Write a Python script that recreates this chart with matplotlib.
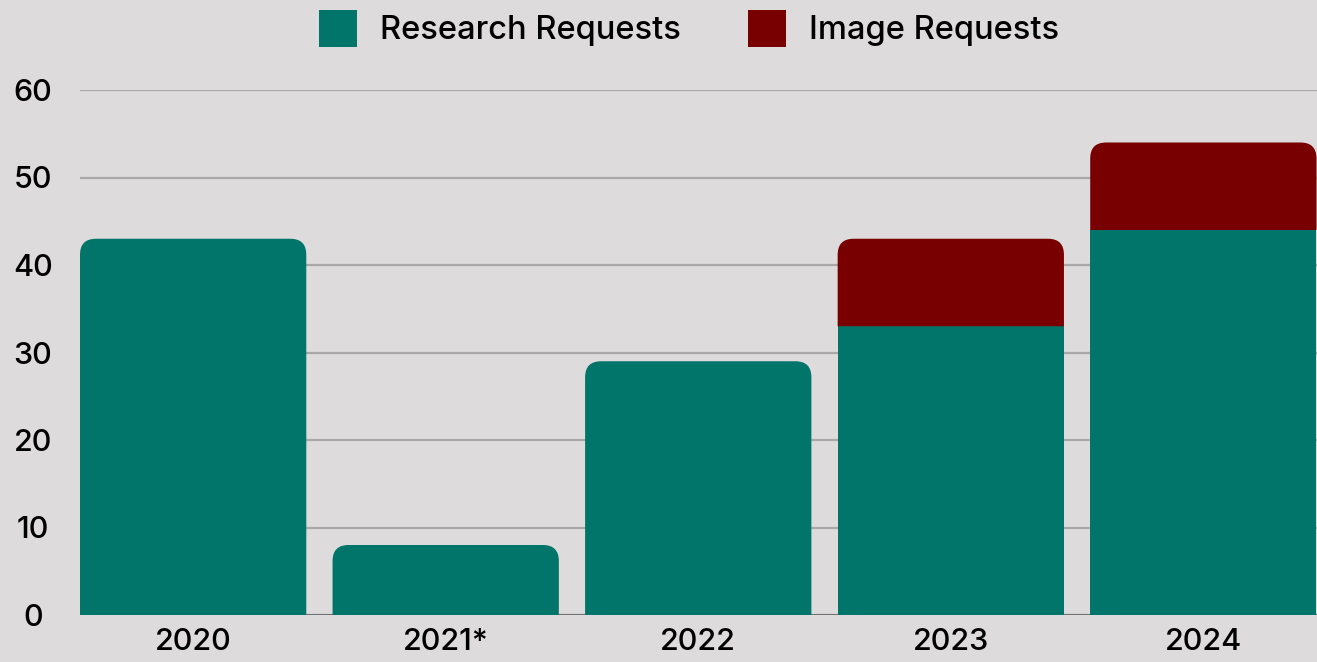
import matplotlib.pyplot as plt
from matplotlib import font_manager
from matplotlib.patches import Patch, PathPatch
from matplotlib.path import Path

# data
years = ['2020', '2021*', '2022', '2023', '2024']
research = [43, 8, 29, 33, 44]
image = [0, 0, 0, 10, 10]

bg = '#dddbdc'
teal = '#02756b'
red = '#790000'

# pick the static Inter Medium file (variable font renders too thin)
fpath = None
for f in font_manager.fontManager.ttflist:
    if f.fname.endswith('Inter-Medium.otf'):
        fpath = f.fname
        break
if fpath:
    font = font_manager.FontProperties(fname=fpath, size=22)
    lfont = font_manager.FontProperties(fname=fpath, size=23.5)
else:
    font = font_manager.FontProperties(family='DejaVu Sans', size=21)
    lfont = font_manager.FontProperties(family='DejaVu Sans', size=22)


def rounded_top(x0, y0, w, h, rx, ry):
    """Path for a bar with rounded top corners (data coords)."""
    ry = min(ry, h)
    verts = [(x0, y0), (x0, y0 + h - ry), (x0, y0 + h), (x0 + rx, y0 + h),
             (x0 + w - rx, y0 + h), (x0 + w, y0 + h), (x0 + w, y0 + h - ry),
             (x0 + w, y0), (x0, y0)]
    codes = [Path.MOVETO, Path.LINETO, Path.CURVE3, Path.CURVE3,
             Path.LINETO, Path.CURVE3, Path.CURVE3, Path.LINETO, Path.CLOSEPOLY]
    return Path(verts, codes)


fig = plt.figure(figsize=(13.17, 6.62), dpi=100, facecolor=bg)
ax = fig.add_axes([80 / 1317, 1 - 615 / 662, 1 - 80 / 1317, (615 - 90) / 662])
ax.set_facecolor(bg)

width = 0.896
x = list(range(len(years)))
ax.set_xlim(-width / 2, len(years) - 1 + width / 2 + 0.002)
ax.set_ylim(0, 60)

b1 = ax.bar(x, research, width, color=teal, zorder=3, label='Research Requests')
b2 = ax.bar(x, image, width, bottom=research, color=red, zorder=3, label='Image Requests')

# px -> data units for corner radius
fig.canvas.draw()
p0 = ax.transData.transform((0, 0))
p1 = ax.transData.transform((1, 1))
rad = 16
rx = rad / (p1[0] - p0[0])
ry = rad / (p1[1] - p0[1])

for i in range(len(years)):
    top = b2[i] if image[i] > 0 else b1[i]
    top.set_visible(False)
    pth = rounded_top(top.get_x(), top.get_y(), top.get_width(), top.get_height(), rx, ry)
    ax.add_patch(PathPatch(pth, facecolor=top.get_facecolor(), edgecolor='none', zorder=3))

ax.set_yticks([0, 10, 20, 30, 40, 50, 60])
ax.grid(axis='y', color='#a9a8a8', linewidth=1.6, zorder=0)
ax.axhline(0, color='#6b6b6b', linewidth=2, zorder=1)
ax.set_axisbelow(True)
for s in ax.spines.values():
    s.set_visible(False)

ax.set_xticks(x)
ax.set_xticklabels(years)
ax.tick_params(axis='both', length=0, colors='#000000')
ax.tick_params(axis='x', pad=9)
ax.tick_params(axis='y', pad=34)
for lab in ax.get_xticklabels():
    lab.set_fontproperties(font)
for lab in ax.get_yticklabels():
    lab.set_fontproperties(font)
    lab.set_ha('center')

handles = [Patch(facecolor=teal, label='Research Requests'),
           Patch(facecolor=red, label='Image Requests')]
fig.legend(handles=handles, loc='upper center', bbox_to_anchor=(0.523, 1.03), ncol=2,
           frameon=False, prop=lfont, handlelength=1.17, handleheight=1.4,
           handletextpad=0.7, columnspacing=2.05)

fig.savefig('out.png', dpi=100, facecolor=bg)
